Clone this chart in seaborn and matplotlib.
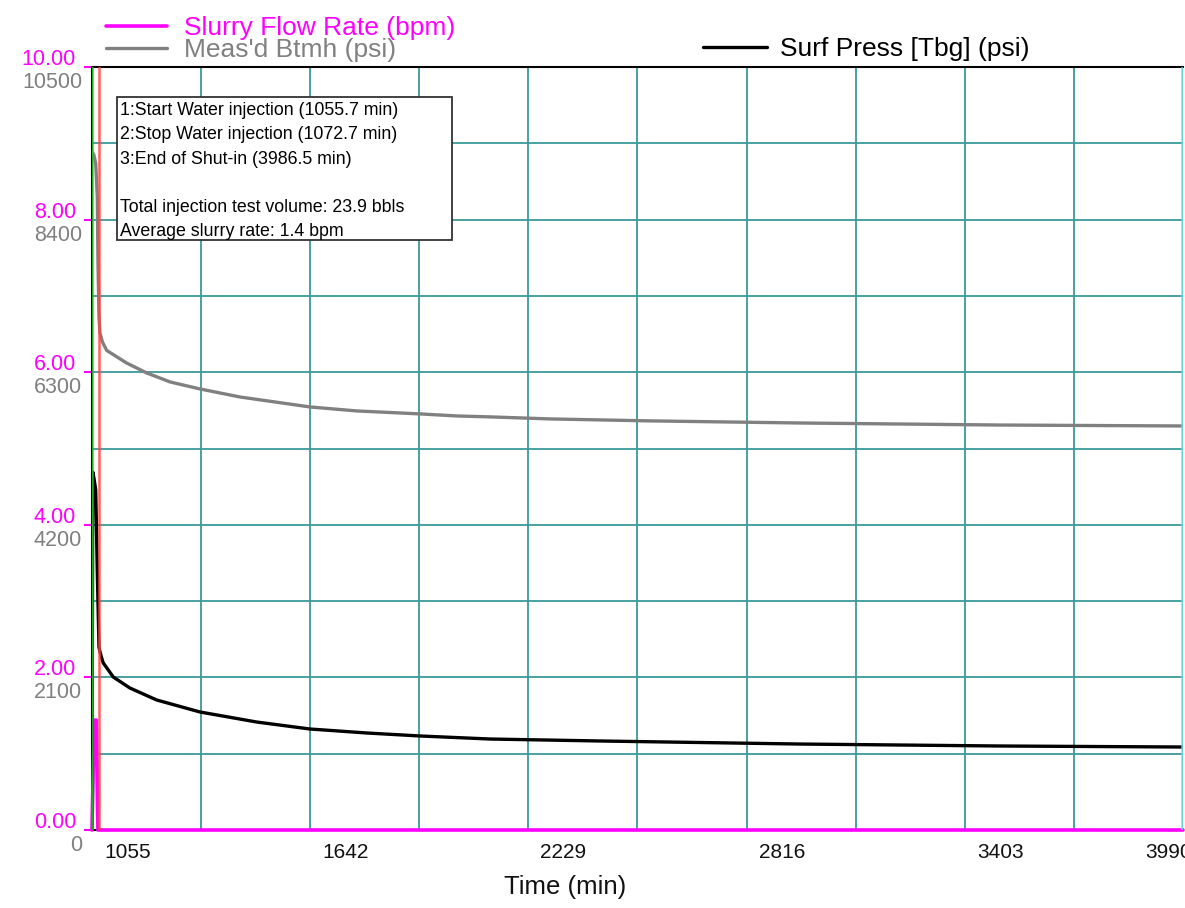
import numpy as np
import pandas as pd
import matplotlib
matplotlib.use("Agg")
import matplotlib.pyplot as plt
import seaborn as sns
from matplotlib.transforms import ScaledTranslation, blended_transform_factory
from matplotlib.patches import Rectangle

# ---------------- data ----------------
time_rate = [1055, 1061, 1066.5, 1071, 3990]
rate_bpm = [0.0, 1.44, 1.44, 0.0, 0.0]

time_bh = [1055.5, 1060, 1065, 1069.3, 1071.1, 1073.8, 1076.5, 1082.7, 1094.5, 1148,
           1202, 1265, 1345, 1453, 1641, 1767, 1937, 2036, 2126, 2287, 2556, 2960,
           3497, 3990]
bh_psi = [9330, 9290, 9177, 8711, 7803, 7060, 6840, 6720, 6600, 6427,
          6290, 6166, 6070, 5959, 5822, 5767, 5726, 5698, 5685, 5657, 5630, 5601,
          5573, 5560]

time_surf = [1055, 1057, 1060, 1065, 1069.3, 1073.8, 1076, 1082.7, 1085.4, 1112.3,
             1157, 1229, 1345.5, 1498, 1641, 1794, 1937, 2126, 2421, 2960, 3497, 3990]
surf_psi = [0, 4927, 4850, 4679, 3537, 2518, 2460, 2339, 2298, 2105,
            1954, 1789, 1624, 1486, 1390, 1335, 1294, 1252, 1225, 1183, 1156, 1142]

event_times = [1055.7, 1072.7, 3986.5]
x_tick_values = [1055, 1642, 2229, 2816, 3403, 3990]
bpm_ticks = [0, 2, 4, 6, 8, 10]
psi_ticks = [0, 2100, 4200, 6300, 8400, 10500]
annotation_lines = [
    "1:Start Water injection (1055.7 min)",
    "2:Stop Water injection (1072.7 min)",
    "3:End of Shut-in (3986.5 min)",
    "",
    "Total injection test volume: 23.9 bbls",
    "Average slurry rate: 1.4 bpm",
]

df_rate = pd.DataFrame({"Time": time_rate, "Rate": rate_bpm})
df_bh = pd.DataFrame({"Time": time_bh, "Psi": bh_psi})
df_surf = pd.DataFrame({"Time": time_surf, "Psi": surf_psi})

# ---------------- style ----------------
sns.set_theme(style="white")
plt.rcParams["font.family"] = ["Liberation Sans", "DejaVu Sans"]

MAGENTA = "#ff00ff"
GRAY = "#808080"
GRID = "#3a9a9a"

W, H = 1185, 908
fig = plt.figure(figsize=(W / 100, H / 100), dpi=100)
ax = fig.add_axes([92 / W, 1 - 830 / H, 1091 / W, 763 / H])
ax2 = ax.twinx()

# curves
sns.lineplot(data=df_rate, x="Time", y="Rate", ax=ax, color=MAGENTA, lw=2.6,
             estimator=None, sort=False, legend=False, zorder=5)
line_rate = ax.lines[-1]
line_rate.set_clip_on(False)

sns.lineplot(data=df_bh, x="Time", y="Psi", ax=ax2, color=GRAY, lw=2.4,
             estimator=None, sort=False, legend=False, zorder=4)
line_bh = ax2.lines[-1]
sns.lineplot(data=df_surf, x="Time", y="Psi", ax=ax2, color="black", lw=2.4,
             estimator=None, sort=False, legend=False, zorder=4)
line_surf = ax2.lines[-1]

# event markers
for t, c in zip(event_times, ["#22cc22", "#ff4444", "#66dddd"]):
    ax2.axvline(t, color=c, lw=1.8, alpha=0.85, zorder=6)

ax.set_xlim(x_tick_values[0], x_tick_values[-1])
ax.set_ylim(bpm_ticks[0], bpm_ticks[-1])
ax2.set_ylim(psi_ticks[0], psi_ticks[-1])
ax.set_ylabel("")
ax2.set_ylabel("")

# grid
ax.set_xticks(np.linspace(x_tick_values[0], x_tick_values[-1], 11))
ax.set_yticks(bpm_ticks)
ax.set_yticks([1, 3, 5, 7, 9], minor=True)
ax.grid(True, which="both", color=GRID, lw=1.3)
ax.set_axisbelow(True)
ax.tick_params(axis="x", length=0, labelbottom=False)
ax.tick_params(axis="y", which="major", length=6, width=1.5, color=MAGENTA,
               left=True, labelleft=False)
ax.tick_params(axis="y", which="minor", length=0)
ax2.set_yticks([])
ax2.grid(False)

for s in ["top", "left", "bottom"]:
    ax.spines[s].set_visible(True)
    ax.spines[s].set_color("black")
    ax.spines[s].set_linewidth(1.5)
ax.spines["right"].set_visible(False)
for s in ax2.spines.values():
    s.set_visible(False)

# y tick labels (two scales on the left)
tm = ax.get_yaxis_transform() + ScaledTranslation(-0.16, 0.075, fig.dpi_scale_trans)
for v in bpm_ticks:
    ax.text(0, v, f"{v:.2f}", transform=tm, ha="right", va="center",
            color=MAGENTA, fontsize=15.5, clip_on=False)
tg = ax2.get_yaxis_transform() + ScaledTranslation(-0.10, -0.155, fig.dpi_scale_trans)
for v in psi_ticks:
    ax2.text(0, v, f"{v}", transform=tg, ha="right", va="center",
             color=GRAY, fontsize=15.5, clip_on=False)

# x tick labels (the last one is cut by the figure edge, as in the reference)
bx = blended_transform_factory(ax.transData, ax.transAxes)
for v in x_tick_values[:-1]:
    ax.text(v, 0, str(v), transform=bx + ScaledTranslation(0.12, -0.22, fig.dpi_scale_trans),
            ha="left", va="center", fontsize=15, color="#111111", clip_on=False)
ax.text(x_tick_values[-1], 0, str(x_tick_values[-1]),
        transform=bx + ScaledTranslation(-0.38, -0.22, fig.dpi_scale_trans),
        ha="left", va="center", fontsize=15, color="#111111", clip_on=False)

ax.set_xlabel("Time (min)", fontsize=18.5, color="#111111")
ax.xaxis.set_label_coords((565 - 92) / 1091, (830 - 887) / 763)
ax.xaxis.label.set_va("center")

# annotation box
ax2.add_patch(Rectangle(((117 - 92) / 1091, (830 - 240) / 763),
                        (452 - 117) / 1091, (240 - 97) / 763,
                        transform=ax2.transAxes, facecolor="white",
                        edgecolor="#333333", lw=1.3, zorder=10))
ax2.text((120 - 92) / 1091, (830 - 102) / 763, "\n".join(annotation_lines),
         transform=ax2.transAxes, ha="left", va="top", fontsize=12.8,
         linespacing=1.56, color="black", zorder=11)

# legends
fs = 19
px = fs * 100 / 72
leg1 = fig.legend([line_rate], ["Slurry Flow Rate (bpm)"], loc="center left",
                  bbox_to_anchor=(106 / W, 1 - 28 / H), frameon=False, fontsize=fs,
                  handlelength=61 / px, handletextpad=17 / px, borderpad=0,
                  borderaxespad=0)
leg1.get_texts()[0].set_color(MAGENTA)
leg2 = fig.legend([line_bh], ["Meas'd Btmh (psi)"], loc="center left",
                  bbox_to_anchor=(106 / W, 1 - 50 / H), frameon=False, fontsize=fs,
                  handlelength=61 / px, handletextpad=17 / px, borderpad=0,
                  borderaxespad=0)
leg2.get_texts()[0].set_color(GRAY)
leg3 = fig.legend([line_surf], ["Surf Press [Tbg] (psi)"], loc="center left",
                  bbox_to_anchor=(703 / W, 1 - 49 / H), frameon=False, fontsize=fs,
                  handlelength=64 / px, handletextpad=13 / px, borderpad=0,
                  borderaxespad=0)
leg3.get_texts()[0].set_color("black")

fig.savefig("out.png", dpi=100)
